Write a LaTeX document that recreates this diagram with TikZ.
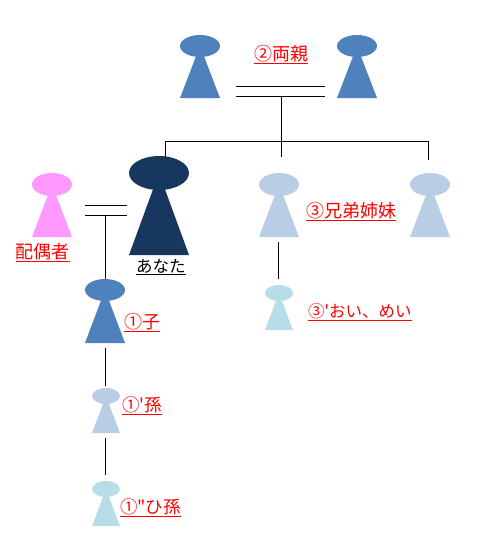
\documentclass[tikz,border=0pt]{standalone}
\usepackage{fontspec}
\newfontfamily\jp{Noto Sans CJK JP}
\usetikzlibrary{shapes.geometric}
\definecolor{cParent}{HTML}{4F81BD}
\definecolor{cYou}{HTML}{17375E}
\definecolor{cSpouse}{HTML}{FF99FF}
\definecolor{cSib}{HTML}{B9CDE5}
\definecolor{cNiece}{HTML}{B7DDE8}
\definecolor{cLabel}{HTML}{FF0000}
\tikzset{
  link/.style={draw=black,line width=0.75pt},
  head/.style={ellipse,inner sep=0pt,outer sep=0pt},
  lab/.style={anchor=base west,inner sep=0pt,outer sep=0pt,text=cLabel,font=\jp\fontsize{#1}{#1}\selectfont},
  lab/.default={18},
  labk/.style={lab=#1,text=black}
}
% name, x-left, width, y-top, head-height, y-base, colour
\newcommand{\person}[7]{%
  \fill[#7] (#2,#6) -- (#2+#3*0.5,#4+#5*0.5) -- (#2+#3,#6) -- cycle;
  \node[head,fill=#7,minimum width=#3 pt,minimum height=#5 pt] (#1) at (#2+#3*0.5,#4+#5*0.5) {};
  \coordinate (#1-b) at (#2+#3*0.5,#6);
}
\begin{document}
\begin{tikzpicture}[x=1pt,y=-1pt]
\useasboundingbox (0,0) rectangle (488,555);
\person{pl}{180}{40}{35}{22}{98}{cParent}
\person{pr}{337}{40}{35}{22}{98}{cParent}
\person{you}{129}{60}{156}{34}{255}{cYou}
\person{sp}{32}{40}{173}{23}{237}{cSpouse}
\person{sa}{259}{40}{173}{23}{237}{cSib}
\person{sb}{410}{40}{173}{23}{237}{cSib}
\person{ne}{265}{28}{285}{16}{330}{cNiece}
\person{ch}{85}{40}{279}{22}{343}{cParent}
\person{gc}{92}{28}{388}{16}{433}{cSib}
\person{gg}{92}{28}{481}{16}{526}{cNiece}
% couple bars
\coordinate (m1a) at (236,86); \coordinate (m1b) at (325,86);
\coordinate (m2a) at (236,96); \coordinate (m2b) at (325,96);
\coordinate (drop) at (281,96);
\coordinate (busl) at (165,141); \coordinate (busm) at (281,141); \coordinate (busr) at (428,141);
\coordinate (sibt) at (281,157); \coordinate (rt) at (428,160); \coordinate (yout) at (165,158);
\coordinate (s1a) at (85,205); \coordinate (s1b) at (127,205);
\coordinate (s2a) at (85,215); \coordinate (s2b) at (127,215);
\coordinate (sdrop) at (105,215); \coordinate (cht) at (105,279);
\draw[link] (m1a) -- (m1b);
\draw[link] (m2a) -- (m2b);
\draw[link] (drop) -- (sibt);
\draw[link] (yout) -- (busl) -- (busr) -- (rt);
\draw[link] (s1a) -- (s1b);
\draw[link] (s2a) -- (s2b);
\draw[link] (sdrop) -- (cht);
\coordinate (a1) at (105.5,348); \coordinate (a2) at (105.5,386);
\coordinate (b1) at (105.5,438); \coordinate (b2) at (105.5,475);
\coordinate (c1) at (278,242); \coordinate (c2) at (278,279);
\draw[link] (a1) -- (a2);
\draw[link] (b1) -- (b2);
\draw[link] (c1) -- (c2);
% labels
\node[lab] (tParent) at (254,60.5) {\underline{②両親}};
\node[lab] (tSpouse) at (16,258) {\underline{配偶者}};
\node[labk=16.5] (tYou) at (136,272) {\underline{あなた}};
\node[lab] (tSib) at (306,217.5) {\underline{③兄弟姉妹}};
\node[lab=16.5] (tNiece) at (308,317) {\underline{③'おい、めい}};
\node[lab] (tChild) at (124,328.5) {\underline{①子}};
\node[lab=17.5] (tGrand) at (122,411) {\underline{①'孫}};
\node[lab=17.5] (tGreat) at (120,513) {\underline{①"ひ孫}};
\end{tikzpicture}
\end{document}
